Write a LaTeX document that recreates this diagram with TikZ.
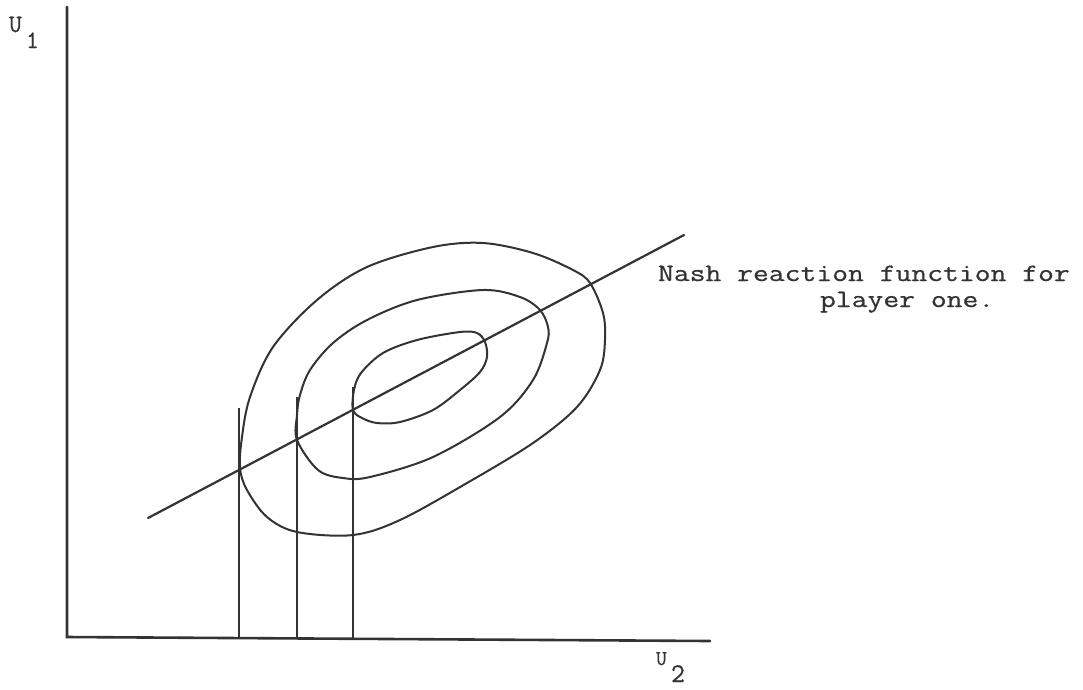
\documentclass[tikz,border=0pt]{standalone}
\usepackage{fontspec}
\newfontfamily\typew{Latin Modern Mono}[FakeBold=0.6]
\usepackage{graphicx}
\definecolor{ink}{HTML}{333333}
\tikzset{
  axis/.style={draw=ink, line width=2.6pt, line cap=round},
  curve/.style={draw=ink, line width=2pt},
  nash/.style={draw=ink, line width=2.2pt, line cap=round},
  drop/.style={draw=ink, line width=1.5pt},
  lbl/.style={inner sep=0pt, outer sep=0pt, text=ink, font=\typew\fontsize{25}{28}\selectfont},
}
\begin{document}
\begin{tikzpicture}[x=1pt,y=-1pt]
\useasboundingbox (0,0) rectangle (1083,689);
% axes
\coordinate (top) at (67,7);
\coordinate (origin) at (67,637);
\coordinate (right) at (710,641);
\draw[axis] (top) -- (origin) -- (right);
% axis labels
\node[lbl, anchor=base west] (u1) at (9,32) {U};
\node[lbl, anchor=base west] (s1) at (26,48) {1};
\node[lbl, anchor=base west, font=\typew\fontsize{21}{24}\selectfont] (u2) at (656,665) {U};
\node[lbl, anchor=base west, font=\typew\fontsize{27}{30}\selectfont] (s2) at (671,682) {2};
% indifference curves
\draw[curve] plot[smooth cycle, tension=0.55] coordinates {(240,468) (242,437) (250,397) (273,347) (317,300) (367,267) (433,247) (483,243) (533,253) (573,270) (590,283) (603,313) (605,340) (600,370) (577,407) (533,443) (467,483) (400,520) (353,535) (297,532) (267,517) (247,490)};
\draw[curve] plot[smooth cycle, tension=0.55] coordinates {(297,440) (297,415) (300,395) (310,370) (333,343) (367,320) (417,300) (483,290) (520,297) (540,310) (548,327) (547,343) (533,380) (500,417) (433,457) (370,477) (343,478) (318,470)};
\draw[curve] plot[smooth cycle, tension=0.55] coordinates {(353,410) (354,390) (361,373) (383,353) (417,340) (460,332) (477,333) (485,342) (487,357) (480,372) (460,390) (433,410) (400,422) (377,423) (362,418)};
% Nash reaction line
\coordinate (n0) at (148,518);
\coordinate (n1) at (684,235);
\draw[nash] (n0) -- (n1);
% vertical drops
\coordinate (a0) at (239,408); \coordinate (a1) at (239,639);
\coordinate (b0) at (297,397); \coordinate (b1) at (297,639);
\coordinate (c0) at (353,387); \coordinate (c1) at (353,640);
\draw[drop] (a0) -- (a1);
\draw[drop] (b0) -- (b1);
\draw[drop] (c0) -- (c1);
% label
\node[lbl, anchor=base west] (t1) at (658,281) {\scalebox{1.23}[1]{Nash reaction function for}};
\node[lbl, anchor=base west] (t2) at (820,307) {\scalebox{1.23}[1]{player one.}};
\end{tikzpicture}
\end{document}
